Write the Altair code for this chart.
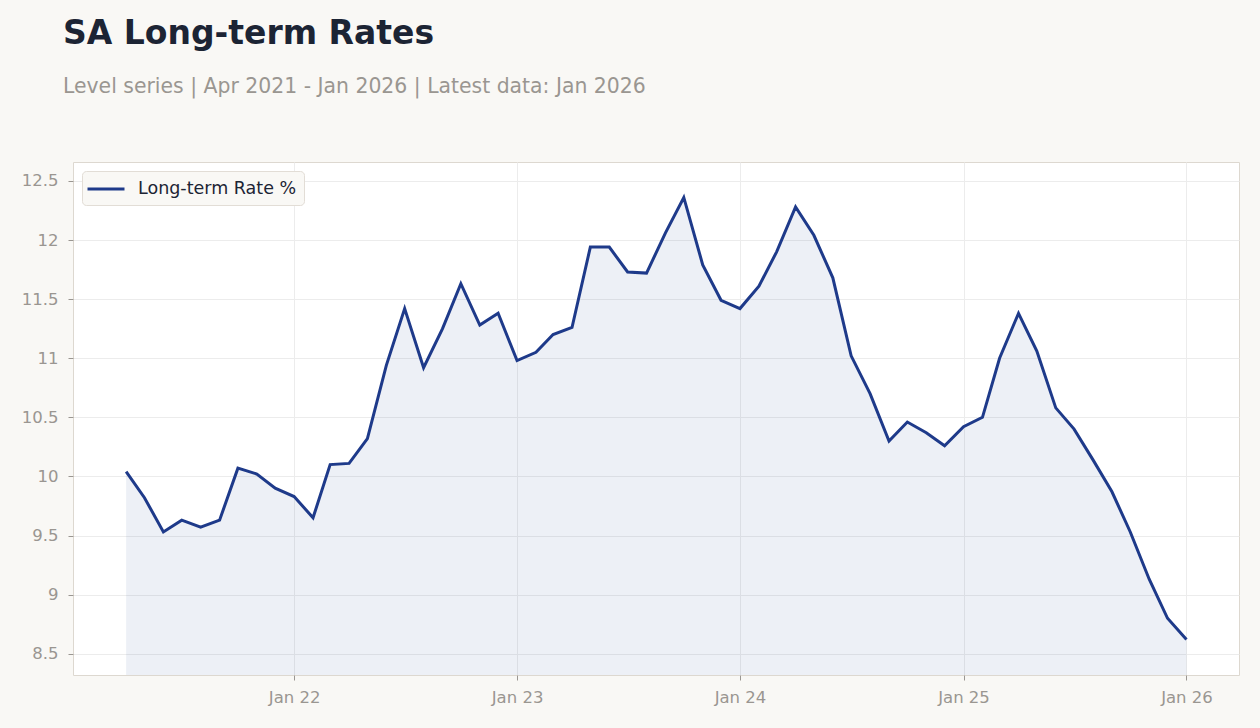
import altair as alt
import pandas as pd

# Monthly observations, Apr 2021 .. Jan 2026
months = pd.date_range("2021-04-01", periods=58, freq="MS").strftime("%Y-%m-%d").tolist()
rates = [
    # 2021 (Apr-Dec)
    10.04, 9.82, 9.53, 9.63, 9.57, 9.63, 10.07, 10.02, 9.90,
    # 2022
    9.83, 9.65, 10.10, 10.11, 10.32, 10.94, 11.42, 10.92, 11.25, 11.63, 11.28, 11.38,
    # 2023
    10.98, 11.05, 11.20, 11.26, 11.94, 11.94, 11.73, 11.72, 12.06, 12.36, 11.79, 11.49,
    # 2024
    11.42, 11.61, 11.90, 12.28, 12.04, 11.68, 11.02, 10.70, 10.30, 10.46, 10.37, 10.26,
    # 2025
    10.42, 10.50, 11.00, 11.38, 11.06, 10.58, 10.40, 10.14, 9.87, 9.53, 9.13, 8.80,
    # 2026
    8.62,
]
series_name = "Long-term Rate %"
y_ticks = [8.5, 9, 9.5, 10, 10.5, 11, 11.5, 12, 12.5]
x_tick_years = [2022, 2023, 2024, 2025, 2026]

df = pd.DataFrame({"date": months, "rate": rates, "series": series_name})

NAVY = "#1e3a8a"
LABEL_GREY = "#9a9691"
INK = "#1c2434"
FONT = "DejaVu Sans"

x_enc = alt.X(
    "date:T",
    scale=alt.Scale(domain=["2021-01-04", "2026-03-28"]),
    axis=alt.Axis(
        values=[alt.DateTime(year=y, month=1, date=1) for y in x_tick_years],
        format="%b %y",
        title=None,
        grid=True,
        labelPadding=9,
    ),
)
y_enc = alt.Y(
    "rate:Q",
    scale=alt.Scale(domain=[8.32, 12.66], zero=False, nice=False),
    axis=alt.Axis(values=y_ticks, format="~g", title=None, grid=True, labelPadding=10),
)

area = alt.Chart(df).mark_area(color=NAVY, opacity=0.08, clip=True).encode(x=x_enc, y=y_enc)

# Legend key: a long horizontal stroke drawn with a custom path, so the
# row height stays compact while the key itself is wide.
line = alt.Chart(df).mark_line(strokeWidth=3, clip=True).encode(
    x=x_enc,
    y=y_enc,
    color=alt.Color(
        "series:N",
        scale=alt.Scale(range=[NAVY]),
        legend=alt.Legend(
            title=None,
            orient="top-left",
            offset=9,
            symbolType="M-2,0H2",
            symbolStrokeWidth=3,
            symbolSize=342,
            symbolOffset=6,
            labelFontSize=17.5,
            labelColor=INK,
            labelFont=FONT,
            labelOffset=21,
            fillColor="#f9f8f5",
            strokeColor="#e2ddd6",
            cornerRadius=4,
            padding=7,
        ),
    ),
)

chart = (
    alt.layer(area, line)
    .properties(
        width=1166,
        height=513,
        autosize=alt.AutoSizeParams(type="none"),
        padding={"left": 73, "top": 162, "right": 21, "bottom": 53},
        background="#f9f8f5",
        title=alt.Title(
            "SA Long-term Rates",
            subtitle="Level series | Apr 2021 - Jan 2026 | Latest data: Jan 2026",
            anchor="start",
            frame="group",
            dx=-10,
            offset=65,
            font=FONT,
            fontSize=33,
            fontWeight="bold",
            color=INK,
            subtitleFont=FONT,
            subtitleFontSize=20.4,
            subtitleColor=LABEL_GREY,
            subtitlePadding=26,
        ),
    )
    .configure_view(fill="white", stroke="#ddd8d0", strokeWidth=1)
    .configure_axis(
        domain=False,
        gridColor="#ececec",
        gridWidth=1,
        tickColor="#9a9691",
        tickSize=5,
        labelFont=FONT,
        labelFontSize=16.5,
        labelColor=LABEL_GREY,
    )
)

chart.save("out.html", embed_options={"renderer": "svg", "actions": False})
